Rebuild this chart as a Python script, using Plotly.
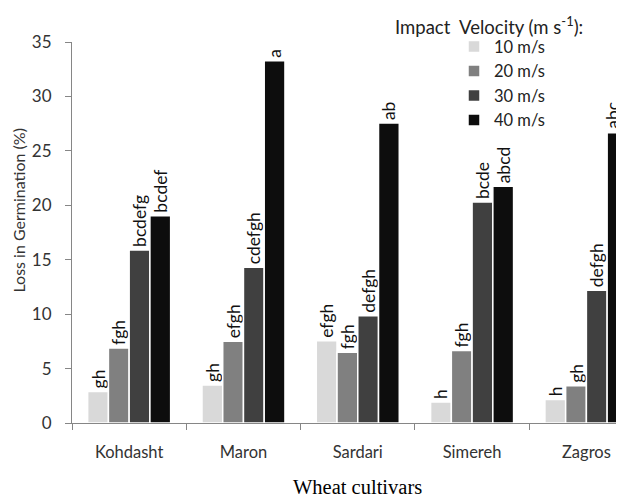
import plotly.graph_objects as go

cultivars = ["Kohdasht", "Maron", "Sardari", "Simereh", "Zagros"]
series_names = ["10 m/s", "20 m/s", "30 m/s", "40 m/s"]
v10 = [2.9, 3.5, 7.55, 1.93, 2.17]
v20 = [6.9, 7.5, 6.5, 6.66, 3.42]
v30 = [15.9, 14.3, 9.85, 20.3, 12.2]
v40 = [19.05, 33.27, 27.55, 21.74, 26.66]
l10 = ["gh", "gh", "efgh", "h", "h"]
l20 = ["fgh", "efgh", "fgh", "fgh", "gh"]
l30 = ["bcdefg", "cdefgh", "defgh", "bcde", "defgh"]
l40 = ["bcdef", "a", "ab", "abcd", "abc"]
colors = ["#d9d9d9", "#808080", "#404040", "#0d0d0d"]

FONT = "Lato"
LBL_SIZE = 17.5
OFF = 8  # page offset of the figure (body margin)
W, H = 624 - OFF, 501 - OFF
# plot area in page pixels
PX0, PX1, PY0, PY1 = 72, 624, 41.7, 423.3
ML, MT = PX0 - OFF, PY0 - OFF
PW, PH = PX1 - PX0, PY1 - PY0
MB = H - (PY1 - OFF)


def px(xp):
    return (xp - PX0) / PW


def py(yp):
    return (PY1 - yp) / PH


fig = go.Figure()
all_vals = [v10, v20, v30, v40]
all_labs = [l10, l20, l30, l40]
for i, (name, vals, labs, col) in enumerate(zip(series_names, all_vals, all_labs, colors)):
    labs_shown = list(labs)
    if i == 3:
        labs_shown[-1] = ""  # edge label drawn as annotation so it stays inside the view
    fig.add_trace(go.Bar(
        x=cultivars, y=vals, name=name, text=labs_shown,
        textposition="outside", textangle=-90, constraintext="none",
        cliponaxis=False,
        textfont=dict(family=FONT, size=LBL_SIZE, color="#111111"),
        marker=dict(color=col, line=dict(color="white", width=1.5)),
    ))

fig.update_layout(
    width=W, height=H,
    margin=dict(l=ML, r=0, t=MT, b=MB, autoexpand=False),
    paper_bgcolor="white", plot_bgcolor="white",
    barmode="group", bargap=0.274, bargroupgap=0,
    font=dict(family=FONT, size=16, color="#404040"),
    showlegend=True,
    legend=dict(xref="paper", yref="paper", x=px(454), y=py(29),
                xanchor="left", yanchor="top", bgcolor="rgba(0,0,0,0)",
                font=dict(family=FONT, size=16.5, color="#222222"),
                itemwidth=30, tracegroupgap=0),
    xaxis=dict(range=[-0.5, 4.329], showline=True, linecolor="#868686", linewidth=1,
               ticks="outside", tickson="boundaries", ticklen=6, tickcolor="#868686",
               showgrid=False, ticklabelstandoff=14,
               tickfont=dict(family=FONT, size=16.5, color="#333333")),
    yaxis=dict(range=[0, 35], dtick=5, showline=True, linecolor="#868686", linewidth=1,
               ticks="outside", ticklen=6, tickcolor="#868686", showgrid=False,
               zeroline=False, ticklabelstandoff=10,
               tickfont=dict(family=FONT, size=17, color="#333333")),
    annotations=[
        dict(text="Loss in Germination (%)", xref="paper", yref="paper",
             x=px(19), y=py(210.5), textangle=-90,
             showarrow=False, xanchor="center", yanchor="middle",
             font=dict(family=FONT, size=16, color="#333333")),
        dict(text="Impact\u00a0 Velocity (m s<sup>-1</sup>):", xref="paper", yref="paper",
             x=px(393), y=py(25), showarrow=False,
             xanchor="left", yanchor="middle",
             font=dict(family=FONT, size=18.5, color="#222222")),
        dict(text="Wheat cultivars", xref="x", yref="paper", x=2, y=py(500.5),
             showarrow=False, xanchor="center", yanchor="bottom",
             font=dict(family="Liberation Serif", size=20.5, color="#000000")),
        dict(text=l40[-1], xref="x", yref="y", x=cultivars[-1], y=v40[-1],
             xshift=26, yshift=2, textangle=-90, showarrow=False,
             xanchor="center", yanchor="bottom",
             font=dict(family=FONT, size=LBL_SIZE, color="#111111")),
    ],
)

fig.write_html("out.html")
